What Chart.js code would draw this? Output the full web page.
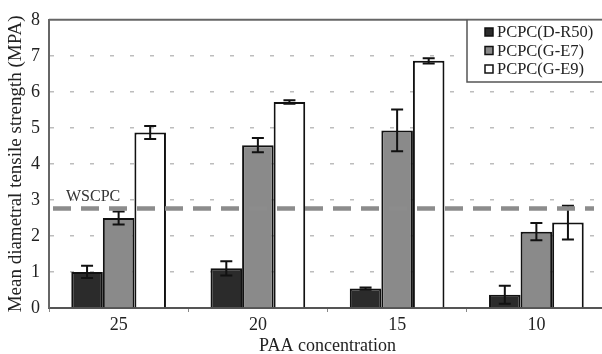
<!DOCTYPE html>
<html>
<head>
<meta charset="utf-8">
<script src="https://cdn.jsdelivr.net/npm/chart.js@4"></script>
<style>
  html, body { margin: 0; padding: 0; background: #fff; overflow: hidden; }
  #wrap { width: 607px; height: 354px; }
</style>
</head>
<body>
<div id="wrap"><canvas id="c" width="607" height="354"></canvas></div>
<script>
// data
const categories = ["25", "20", "15", "10"];
const seriesNames = ["PCPC(D-R50)", "PCPC(G-E7)", "PCPC(G-E9)"];
const dR50 = [1.0, 1.1, 0.54, 0.37];
const dR50Err = [0.17, 0.2, 0.03, 0.25];
const gE7 = [2.5, 4.52, 4.93, 2.12];
const gE7Err = [0.18, 0.2, 0.58, 0.24];
const gE9 = [4.87, 5.72, 6.86, 2.37];
const gE9Err = [0.18, 0.05, 0.07, 0.47];
const wscpc = 2.76;
const yTicks = [0, 1, 2, 3, 4, 5, 6, 7, 8];

const serif = "'Liberation Serif', 'DejaVu Serif', serif";
const fills = ["#2b2b2b", "#8a8a8a", "#ffffff"];
const errors = [dR50Err, gE7Err, gE9Err];

// error bars, WSCPC line, top border and boxed legend
const extras = {
  id: "extras",
  afterDatasetsDraw(chart) {
    const ctx = chart.ctx;
    const y = chart.scales.y;
    const area = chart.chartArea;
    ctx.save();

    // error bars
    ctx.strokeStyle = "#111";
    ctx.lineWidth = 2;
    chart.data.datasets.forEach((ds, i) => {
      const meta = chart.getDatasetMeta(i);
      meta.data.forEach((bar, j) => {
        const v = ds.data[j];
        const e = errors[i][j];
        const top = y.getPixelForValue(v + e);
        const bot = y.getPixelForValue(Math.max(0, v - e));
        ctx.beginPath();
        ctx.moveTo(bar.x, top);
        ctx.lineTo(bar.x, bot);
        ctx.moveTo(bar.x - 6, top);
        ctx.lineTo(bar.x + 6, top);
        ctx.moveTo(bar.x - 6, bot);
        ctx.lineTo(bar.x + 6, bot);
        ctx.stroke();
      });
    });

    // WSCPC reference line
    const wy = y.getPixelForValue(wscpc);
    ctx.strokeStyle = "#8c8c8c";
    ctx.lineWidth = 4.5;
    ctx.setLineDash([18, 10]);
    ctx.beginPath();
    ctx.moveTo(area.left + 4, wy);
    ctx.lineTo(area.right - 12, wy);
    ctx.stroke();
    ctx.setLineDash([]);
    ctx.fillStyle = "#333";
    ctx.font = "16px " + serif;
    ctx.textBaseline = "alphabetic";
    ctx.fillText("WSCPC", area.left + 17, wy - 8);

    // top frame line
    const ty = y.getPixelForValue(8);
    ctx.strokeStyle = "#666";
    ctx.lineWidth = 2;
    ctx.beginPath();
    ctx.moveTo(area.left, ty);
    ctx.lineTo(chart.width, ty);
    ctx.stroke();

    // legend box
    const lx = 467;
    const lb = 82;
    ctx.fillStyle = "#fff";
    ctx.fillRect(lx, ty + 1, chart.width - lx, lb - ty - 1);
    ctx.strokeStyle = "#555";
    ctx.lineWidth = 1.5;
    ctx.beginPath();
    ctx.moveTo(lx, ty);
    ctx.lineTo(lx, lb);
    ctx.lineTo(chart.width, lb);
    ctx.stroke();
    ctx.font = "16.5px " + serif;
    ctx.textBaseline = "middle";
    seriesNames.forEach((name, i) => {
      const ry = 32 + i * 18.5;
      ctx.fillStyle = fills[i];
      ctx.fillRect(485, ry - 4, 8, 8);
      ctx.strokeStyle = "#111";
      ctx.lineWidth = 1.5;
      ctx.strokeRect(485, ry - 4, 8, 8);
      ctx.fillStyle = "#222";
      ctx.fillText(name, 497, ry + 1);
    });
    ctx.restore();
  }
};

new Chart(document.getElementById("c"), {
  type: "bar",
  data: {
    labels: categories,
    datasets: [
      { label: seriesNames[0], data: dR50 },
      { label: seriesNames[1], data: gE7 },
      { label: seriesNames[2], data: gE9 }
    ].map((d, i) => ({
      ...d,
      backgroundColor: fills[i],
      borderColor: "#111",
      borderWidth: 2,
      borderSkipped: "bottom",
      categoryPercentage: 0.68,
      barPercentage: 1.0
    }))
  },
  options: {
    responsive: false,
    animation: false,
    layout: { padding: { top: 18, right: 1, left: 0, bottom: 0 } },
    plugins: { legend: { display: false }, tooltip: { enabled: false } },
    scales: {
      x: {
        offset: true,
        grid: { display: true, drawOnChartArea: false, drawTicks: true, tickLength: 4, color: "#888", offset: true },
        border: { color: "#555", width: 2 },
        ticks: { color: "#222", font: { family: serif, size: 18 }, padding: 2 },
        title: { display: true, text: "PAA concentration", color: "#222", font: { family: serif, size: 18 }, padding: { top: 0, bottom: -3 } },
        afterFit(s) { s.height = 46; }
      },
      y: {
        min: 0,
        max: 8,
        afterBuildTicks(s) { s.ticks = yTicks.map(v => ({ value: v })); },
        grid: {
          drawTicks: false,
          lineWidth: 1.5,
          color: ctx => (ctx.tick && (ctx.tick.value === 0 || ctx.tick.value === 8)) ? "rgba(0,0,0,0)" : "#bdbdbd"
        },
        border: { color: "#666", width: 2, dash: [4, 16] },
        ticks: { color: "#222", font: { family: serif, size: 18 }, padding: 9 },
        title: { display: true, text: "Mean diametral tensile strength (MPA)", color: "#222", font: { family: serif, size: 19 }, padding: { top: 5, bottom: 0 } },
        afterFit(s) { s.width = 49; }
      }
    }
  },
  plugins: [extras]
});
</script>
</body>
</html>
